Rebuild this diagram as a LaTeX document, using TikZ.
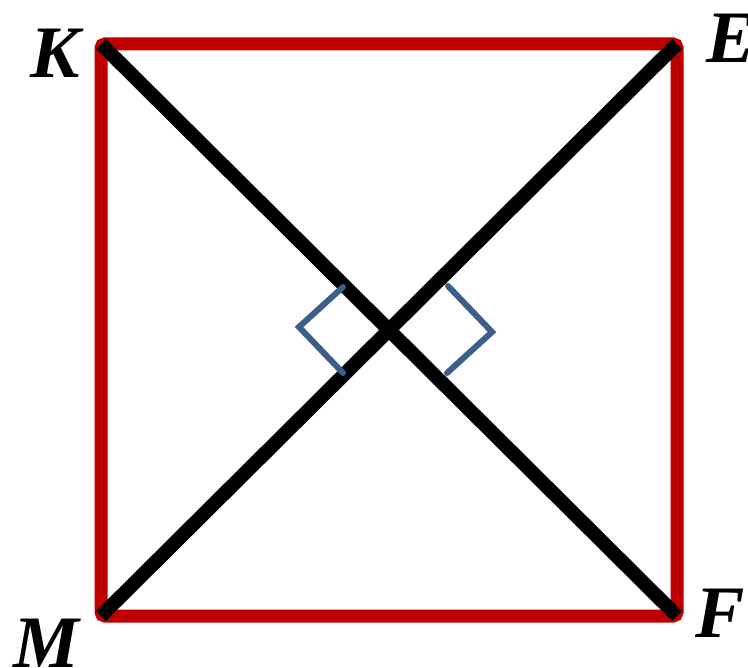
\documentclass[tikz,border=0pt]{standalone}
\usepackage{fontspec}
\setmainfont{Liberation Serif}
\definecolor{sqred}{HTML}{C00000}
\definecolor{mkblue}{HTML}{3B5E8A}
\begin{document}
\begin{tikzpicture}[x=1pt,y=-1pt,
  side/.style={draw=sqred,line width=13pt,rounded corners=4pt},
  diag/.style={draw=black,line width=14pt,line cap=butt},
  rtmark/.style={draw=mkblue,line width=6pt,line cap=round,line join=miter},
  lbl/.style={inner sep=0pt,font=\fontsize{74}{80}\selectfont\bfseries\itshape}]
\useasboundingbox (0,0) rectangle (748,668);
\coordinate (K) at (101,44);
\coordinate (E) at (677,44);
\coordinate (F) at (677,616);
\coordinate (M) at (101,616);
\draw[side] (K) -- (E) -- (F) -- (M) -- cycle;
\draw[diag] (K) -- (F);
\draw[diag] (M) -- (E);
\coordinate (a1) at (343,287);
\coordinate (a2) at (299,327);
\coordinate (a3) at (343,373);
\coordinate (b1) at (448,286);
\coordinate (b2) at (492,332);
\coordinate (b3) at (447,373);
\draw[rtmark] (a1) -- (a2) -- (a3);
\draw[rtmark] (b1) -- (b2) -- (b3);
\node[lbl] (lK) at (55,53) {K};
\node[lbl] (lE) at (731,38) {E};
\node[lbl] (lM) at (46,643) {M};
\node[lbl] (lF) at (720,613) {F};
\end{tikzpicture}
\end{document}
